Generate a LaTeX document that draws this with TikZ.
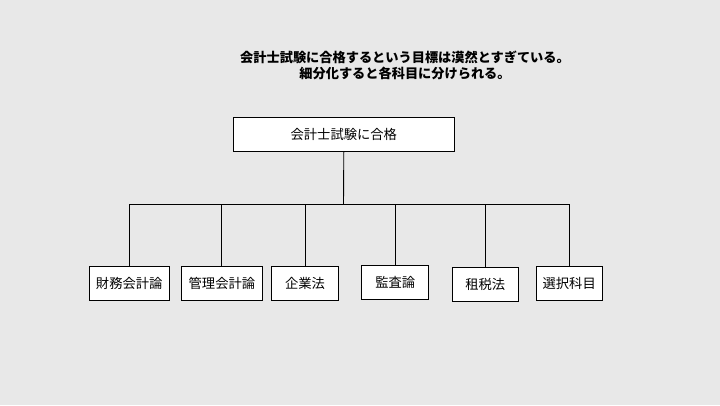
\documentclass[tikz,border=0pt]{standalone}
\usepackage{fontspec}
\newfontfamily\cjk{Noto Sans CJK JP}
\definecolor{bg}{HTML}{E8E8E8}
\begin{document}
\begin{tikzpicture}[x=1pt,y=-1pt,
  box/.style={draw=black,line width=0.9pt,fill=white,inner sep=0pt,minimum height=34pt,font=\cjk\fontsize{13.3}{16}\selectfont},
  link/.style={draw=black,line width=0.9pt},
  title/.style={font=\cjk\bfseries\fontsize{13.2}{16.8}\selectfont,align=center,inner sep=0pt}]
\fill[bg] (0,0) rectangle (720,405);
\useasboundingbox (0,0) rectangle (720,405);
\node[title] (t) at (405,65.5) {会計士試験に合格するという目標は漠然とすぎている。\\細分化すると各科目に分けられる。};
\node[box,minimum width=221pt] (root) at (343.8,134.2) {会計士試験に合格};
\node[box,minimum width=80.5pt] (c1) at (129.2,283.2) {財務会計論};
\node[box,minimum width=81.5pt] (c2) at (221.9,283.2) {管理会計論};
\node[box,minimum width=66.5pt] (c3) at (305,283.2) {企業法};
\node[box,minimum width=67pt] (c4) at (395.2,282.7) {監査論};
\node[box,minimum width=66.3pt] (c5) at (485.2,284.5) {租税法};
\node[box,minimum width=66.3pt] (c6) at (569.2,283.5) {選択科目};
\coordinate (j) at (343.5,204.5);
\draw[link] (root.south) -- (j);
\draw[link] (c1.north) |- (j);
\draw[link] (c6.north) |- (j);
\draw[link] (c2.north) -- (c2.north |- j);
\draw[link] (c3.north) -- (c3.north |- j);
\draw[link] (c4.north) -- (c4.north |- j);
\draw[link] (c5.north) -- (c5.north |- j);
\end{tikzpicture}
\end{document}
